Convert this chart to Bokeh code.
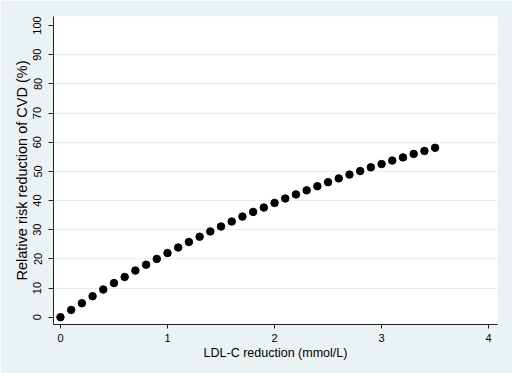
from bokeh.plotting import figure
from bokeh.models import Range1d, FixedTicker
from bokeh.embed import file_html
from bokeh.resources import INLINE

# LDL-C reduction (mmol/L)
ldl_reduction = [0.0, 0.1, 0.2, 0.3, 0.4, 0.5, 0.6, 0.7, 0.8, 0.9,
                 1.0, 1.1, 1.2, 1.3, 1.4, 1.5, 1.6, 1.7, 1.8, 1.9,
                 2.0, 2.1, 2.2, 2.3, 2.4, 2.5, 2.6, 2.7, 2.8, 2.9,
                 3.0, 3.1, 3.2, 3.3, 3.4, 3.5]
# Relative risk reduction of CVD (%)
rrr_cvd = [0.0, 2.5, 4.8, 7.2, 9.5, 11.7, 13.8, 16.0, 18.0, 20.0,
           22.0, 23.9, 25.8, 27.6, 29.4, 31.1, 32.8, 34.5, 36.1, 37.6,
           39.2, 40.7, 42.1, 43.5, 44.9, 46.3, 47.6, 48.9, 50.1, 51.4,
           52.5, 53.7, 54.8, 56.0, 57.0, 58.1]

x_ticks = [0, 1, 2, 3, 4]
y_ticks = [0, 10, 20, 30, 40, 50, 60, 70, 80, 90, 100]
y_grid = [10, 20, 30, 40, 50, 60, 70, 80, 90]

BG = "#EAF2F3"
FONT = "Liberation Sans"

p = figure(width=512, height=373, output_backend="svg", toolbar_location=None,
           x_range=Range1d(-0.065, 4.083), y_range=Range1d(-2.5, 103.1),
           min_border_left=53, min_border_right=15, min_border_top=16,
           min_border_bottom=49,
           background_fill_color="white", border_fill_color=BG,
           outline_line_color=None)

p.scatter(ldl_reduction, rrr_cvd, size=7.5, color="black")

p.xgrid.grid_line_color = None
p.ygrid.ticker = FixedTicker(ticks=y_grid)
p.ygrid.grid_line_color = "#E4ECEE"
p.ygrid.grid_line_width = 1

p.xaxis.ticker = FixedTicker(ticks=x_ticks)
p.yaxis.ticker = FixedTicker(ticks=y_ticks)

for ax in (p.xaxis[0], p.yaxis[0]):
    ax.axis_line_color = "#222222"
    ax.axis_line_width = 1
    ax.major_tick_line_color = "#222222"
    ax.major_tick_in = 0
    ax.minor_tick_line_color = None
    ax.major_label_text_font = FONT
    ax.major_label_text_font_size = "11px"
    ax.major_label_text_color = "black"
    ax.axis_label_text_font = FONT
    ax.axis_label_text_font_style = "normal"
    ax.axis_label_text_color = "black"

p.xaxis.major_tick_out = 4
p.xaxis.major_label_standoff = 5
p.xaxis.axis_label = "LDL-C reduction (mmol/L)"
p.xaxis.axis_label_text_font_size = "12.5px"
p.xaxis.axis_label_standoff = 1

p.yaxis.major_tick_out = 5
p.yaxis.major_label_standoff = 7
p.yaxis.major_label_orientation = "vertical"
p.yaxis.axis_label = "Relative risk reduction of CVD (%)"
p.yaxis.axis_label_text_font_size = "14.5px"
p.yaxis.axis_label_standoff = 1

open("out.html", "w").write(file_html(p, INLINE))
